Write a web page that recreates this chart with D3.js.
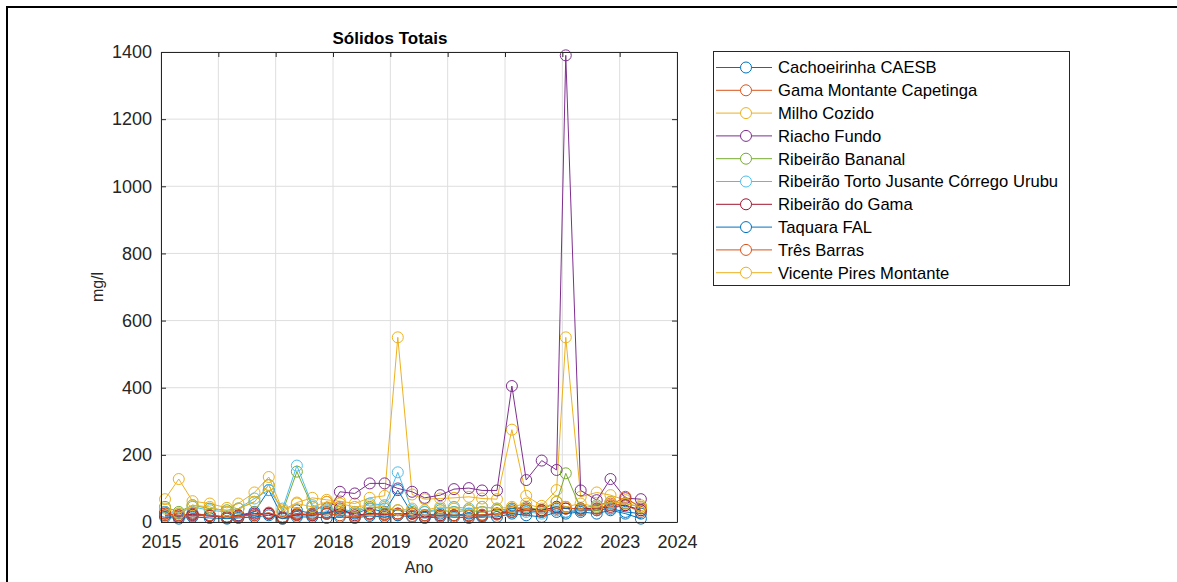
<!DOCTYPE html>
<html>
<head>
<meta charset="utf-8">
<script src="https://cdn.jsdelivr.net/npm/d3@7"></script>
<style>
  html, body { margin: 0; padding: 0; background: #fff; }
  svg { display: block; font-family: "Liberation Sans", Arial, sans-serif; }
</style>
</head>
<body>
<svg id="chart" width="1177" height="582"></svg>
<script>
// ---------- DATA ----------
const dates = [2015.07, 2015.31, 2015.55, 2015.85, 2016.15, 2016.35, 2016.63, 2016.88,
  2017.12, 2017.37, 2017.64, 2017.89, 2018.12, 2018.38, 2018.64, 2018.9,
  2019.13, 2019.38, 2019.6, 2019.87, 2020.11, 2020.37, 2020.6, 2020.86,
  2021.12, 2021.37, 2021.64, 2021.9, 2022.06, 2022.32, 2022.6, 2022.84,
  2023.1, 2023.37];

const seriesNames = ["Cachoeirinha CAESB", "Gama Montante Capetinga", "Milho Cozido", "Riacho Fundo",
  "Ribeirão Bananal", "Ribeirão Torto Jusante Córrego Urubu", "Ribeirão do Gama",
  "Taquara FAL", "Três Barras", "Vicente Pires Montante"];

const cachoeirinha = [20,15,25,20,15,20,30,95,15,35,25,30,30,25,40,30,95,25,20,25,20,25,20,25,35,35,30,40,30,35,35,40,30,25];
const gamaMontante = [20,15,25,20,12,15,25,25,10,20,25,60,45,15,25,25,20,25,20,20,20,20,22,25,40,40,35,45,40,40,35,55,50,30];
const milhoCozido = [68,128,62,55,42,55,88,134,35,58,72,66,62,55,72,78,550,82,68,70,72,75,70,68,275,78,48,95,550,75,88,80,65,50];
const riachoFundo = [30,15,20,18,15,20,25,25,15,25,20,25,90,85,115,115,100,90,72,80,98,101,94,94,405,125,183,155,1390,94,65,128,71,68];
const bananal = [45,30,50,40,35,40,60,110,30,150,45,40,35,30,45,40,35,30,30,35,30,35,30,35,40,45,35,60,145,40,50,60,55,45];
const tortoUrubu = [30,25,45,35,30,40,70,95,40,168,50,35,40,30,55,50,148,35,30,40,45,40,45,40,30,30,25,35,30,35,45,40,50,35];
const doGama = [25,20,22,18,15,18,20,25,12,22,20,25,40,20,25,22,25,25,15,20,20,18,18,25,30,40,35,45,40,40,40,45,50,35];
const taquara = [15,10,15,12,10,12,15,20,10,15,15,12,15,12,18,15,20,15,12,15,15,12,15,15,25,20,15,30,25,30,25,35,25,10];
const tresBarras = [25,20,18,20,15,18,20,28,15,25,22,25,20,15,22,20,25,18,20,18,20,18,20,22,30,35,30,40,45,35,40,50,75,40];
const vicentePires = [40,25,50,45,30,40,60,110,30,55,45,60,55,45,50,45,35,40,35,45,40,35,45,40,45,55,40,60,45,55,45,60,55,45];

const seriesValues = [cachoeirinha, gamaMontante, milhoCozido, riachoFundo, bananal,
  tortoUrubu, doGama, taquara, tresBarras, vicentePires];

const colors = ["#0072BD", "#D95319", "#EDB120", "#7E2F8E", "#77AC30",
  "#4DBEEE", "#A2142F", "#0072BD", "#D95319", "#EDB120"];

const xTicks = [2015, 2016, 2017, 2018, 2019, 2020, 2021, 2022, 2023, 2024];
const yTicks = [0, 200, 400, 600, 800, 1000, 1200, 1400];

// ---------- LAYOUT ----------
const svg = d3.select("#chart");
const L = 161, R = 677, T = 52, B = 522;
const x = d3.scaleLinear().domain([2015, 2024]).range([L, R]);
const y = d3.scaleLinear().domain([0, 1400]).range([B, T]);
const axisColor = "#262626";

svg.append("rect").attr("width", 1177).attr("height", 582).attr("fill", "#fff");
// outer frame (top & left visible)
svg.append("rect").attr("x", 7).attr("y", 7).attr("width", 1200).attr("height", 600)
  .attr("fill", "none").attr("stroke", "#000").attr("stroke-width", 2);

// grid
const grid = svg.append("g");
grid.selectAll("line.gx").data(xTicks).join("line")
  .attr("x1", d => x(d)).attr("x2", d => x(d)).attr("y1", T).attr("y2", B)
  .attr("stroke", "#dedede").attr("stroke-width", 1);
grid.selectAll("line.gy").data(yTicks).join("line")
  .attr("y1", d => y(d)).attr("y2", d => y(d)).attr("x1", L).attr("x2", R)
  .attr("stroke", "#dedede").attr("stroke-width", 1);

// series
const line = d3.line().x((d, i) => x(dates[i])).y(d => y(d));
seriesValues.forEach((vals, s) => {
  const g = svg.append("g");
  g.append("path").datum(vals).attr("d", line)
    .attr("fill", "none").attr("stroke", colors[s]).attr("stroke-width", 1);
  g.selectAll("circle").data(vals).join("circle")
    .attr("cx", (d, i) => x(dates[i])).attr("cy", d => y(d)).attr("r", 5.5)
    .attr("fill", "none").attr("stroke", colors[s]).attr("stroke-width", 1);
});

// axes (ticks inward, box)
function styleAxis(g) {
  g.select(".domain").attr("stroke", axisColor);
  g.selectAll(".tick line").attr("stroke", axisColor);
  g.selectAll(".tick text").attr("fill", axisColor).style("font-size", "18px")
    .style("font-family", '"Liberation Sans", Arial, sans-serif');
}
svg.append("g").attr("transform", `translate(0,${B})`)
  .call(d3.axisBottom(x).tickValues(xTicks).tickFormat(d3.format("d")).tickSize(-5).tickSizeOuter(0).tickPadding(13))
  .call(styleAxis);
svg.append("g").attr("transform", `translate(0,${T})`)
  .call(d3.axisTop(x).tickValues(xTicks).tickFormat("").tickSize(-5).tickSizeOuter(0))
  .call(styleAxis);
svg.append("g").attr("transform", `translate(${L},0)`)
  .call(d3.axisLeft(y).tickValues(yTicks).tickFormat(d3.format("d")).tickSize(-5).tickSizeOuter(0).tickPadding(9))
  .call(styleAxis);
svg.append("g").attr("transform", `translate(${R},0)`)
  .call(d3.axisRight(y).tickValues(yTicks).tickFormat("").tickSize(-5).tickSizeOuter(0))
  .call(styleAxis);
svg.selectAll(".domain").attr("stroke", axisColor);

// title and labels
svg.append("text").attr("x", 390).attr("y", 44).attr("text-anchor", "middle")
  .style("font-size", "17px").style("font-weight", "bold").attr("fill", "#000")
  .text("Sólidos Totais");
svg.append("text").attr("x", (L + R) / 2).attr("y", 573).attr("text-anchor", "middle")
  .style("font-size", "16px").attr("fill", axisColor).text("Ano");
svg.append("text").attr("transform", `translate(103,${(T + B) / 2}) rotate(-90)`)
  .attr("text-anchor", "middle").style("font-size", "16px").attr("fill", axisColor).text("mg/l");

// legend
const lg = svg.append("g");
lg.append("rect").attr("x", 713.5).attr("y", 51.5).attr("width", 356).attr("height", 234)
  .attr("fill", "#fff").attr("stroke", axisColor).attr("stroke-width", 1);
const ly0 = 67.5, lstep = 22.8;
seriesNames.forEach((name, i) => {
  const yy = ly0 + i * lstep;
  lg.append("line").attr("x1", 716).attr("x2", 772).attr("y1", yy).attr("y2", yy)
    .attr("stroke", colors[i]).attr("stroke-width", 1);
  lg.append("circle").attr("cx", 746).attr("cy", yy).attr("r", 5.5)
    .attr("fill", "#fff").attr("stroke", colors[i]).attr("stroke-width", 1);
  lg.append("text").attr("x", 778).attr("y", yy).attr("dy", "0.35em")
    .style("font-size", "16.6px").attr("fill", "#000").text(name);
});
</script>
</body>
</html>
